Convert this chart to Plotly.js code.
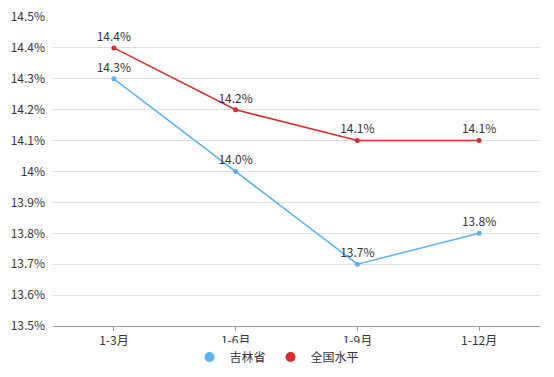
<!DOCTYPE html>
<html><head><meta charset="utf-8">
<script src="https://cdn.plot.ly/plotly-3.0.1.min.js"></script>
<style>body{margin:0;background:#fff}#c{width:554px;height:377px}</style>
</head><body><div id="c"></div>
<script>
const categories = ["1-3月","1-6月","1-9月","1-12月"];
const jilin = [14.3, 14.0, 13.7, 13.8];
const national = [14.4, 14.2, 14.1, 14.1];
const yTickVals = [13.5,13.6,13.7,13.8,13.9,14.0,14.1,14.2,14.3,14.4,14.5];
const yTickText = ["13.5%","13.6%","13.7%","13.8%","13.9%","14%","14.1%","14.2%","14.3%","14.4%","14.5%"];
const names = ["吉林省","全国水平"];
const colors = ["#5cb1f3","#d42f2b"];
const font = "Noto Sans CJK SC, Noto Sans, sans-serif";
function lineTrace(y, i){
  return {x: categories, y: y, type:"scatter", mode:"lines+markers+text",
    line:{color:colors[i], width:1.5}, marker:{color:colors[i], size:5},
    text: y.map(v=>v.toFixed(1)+"%"), textposition:"top center",
    textfont:{family:font,size:12,color:"#333"}, showlegend:false, hoverinfo:"skip", cliponaxis:false};
}
function legTrace(i){
  return {x:[null], y:[null], type:"scatter", mode:"markers", name:names[i],
    marker:{color:colors[i], size:10}, hoverinfo:"skip"};
}
const data = [lineTrace(jilin,0), lineTrace(national,1), legTrace(0), legTrace(1)];
const layout = {
  width:554, height:377, margin:{l:53,r:14,t:17,b:51},
  paper_bgcolor:"#fff", plot_bgcolor:"#fff",
  font:{family:font,size:12,color:"#333"},
  xaxis:{type:"category", range:[-0.5,3.5], showgrid:false, showline:true, linecolor:"#999", linewidth:1,
    ticks:"outside", ticklen:4, tickcolor:"#999", tickfont:{size:12,color:"#333"}, zeroline:false, fixedrange:true},
  yaxis:{range:[13.5,14.5], tickvals:yTickVals, ticktext:yTickText, showgrid:true, gridcolor:"#e0e0e0", gridwidth:1,
    zeroline:false, showline:false, ticks:"", ticklabelstandoff:7, tickfont:{size:12,color:"#333"}, fixedrange:true},
  legend:{orientation:"h", x:0.5, xanchor:"center", xref:"container", y:0.053, yref:"container", yanchor:"middle",
    font:{size:12,color:"#333"}, itemwidth:30, tracegroupgap:0},
  showlegend:true
};
Plotly.newPlot("c", data, layout, {displayModeBar:false, staticPlot:true});
</script></body></html>
